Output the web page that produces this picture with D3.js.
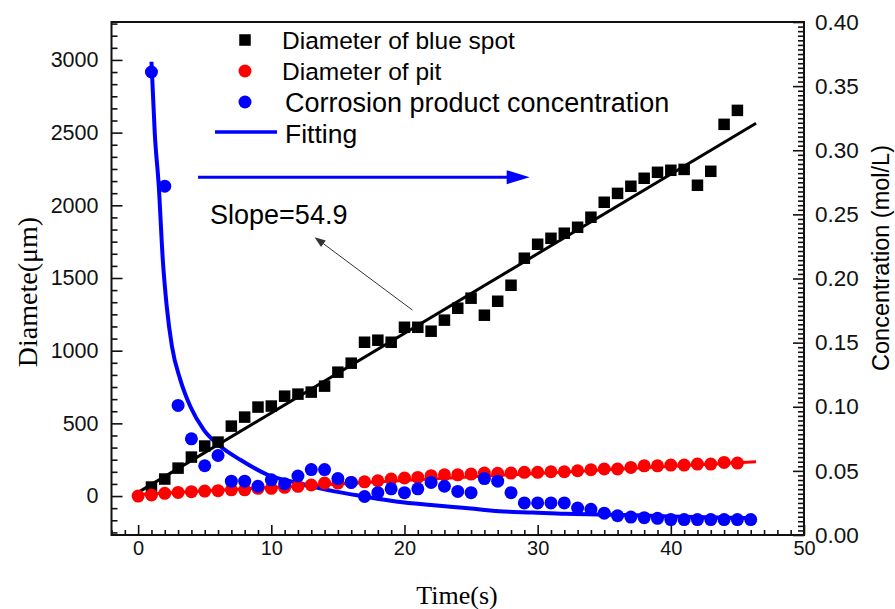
<!DOCTYPE html>
<html>
<head>
<meta charset="utf-8">
<script src="https://cdn.jsdelivr.net/npm/d3@7"></script>
<style>
  body { margin: 0; background: #fff; }
  svg { display: block; }
  .tick text { font-family: "Liberation Sans", Arial, sans-serif; fill: #111; }
</style>
</head>
<body>
<svg id="chart"></svg>
<script>
// black squares: diameter of blue spot (um), t = 1..45 s
const spotTime = d3.range(1, 46)
const spotDiam = [62, 117, 192, 268, 344, 371, 481, 543, 612, 619,
  687, 701, 715, 756, 852, 914, 1058, 1072, 1058, 1161,
  1161, 1134, 1210, 1292, 1361, 1244, 1340, 1450, 1636, 1732,
  1773, 1808, 1849, 1918, 2021, 2082, 2131, 2186, 2227, 2241,
  2247, 2138, 2234, 2557, 2653]

// red circles: diameter of pit (um), t = 0..45 s
const pitTime = d3.range(0, 46)
const pitDiam = [0, 7, 19, 25, 30, 34, 37, 43, 43, 53,
  53, 60, 67, 76, 89, 89, 94, 98, 105, 117,
  124, 128, 140, 146, 146, 151, 158, 156, 158, 163,
  163, 167, 167, 174, 181, 186, 186, 197, 208, 208,
  213, 213, 220, 220, 231, 227]

// blue circles: corrosion product concentration (mol/L), t = 1..46 s
const concTime = d3.range(1, 47)
const conc = [0.361, 0.272, 0.101, 0.075, 0.054, 0.062, 0.042, 0.042, 0.038, 0.043,
  0.040, 0.046, 0.051, 0.051, 0.044, 0.041, 0.030, 0.033, 0.036, 0.033,
  0.036, 0.041, 0.038, 0.034, 0.033, 0.044, 0.042, 0.033, 0.025, 0.025,
  0.025, 0.025, 0.021, 0.020, 0.017, 0.015, 0.014, 0.0135, 0.013, 0.012,
  0.012, 0.012, 0.012, 0.012, 0.012, 0.012]

// fitted curves
const spotFitTime = [0, 46.4]
const spotFitDiam = [25, 2565]
const pitFitTime = [0, 46.4]
const pitFitDiam = [10, 236]
const concFitTime = [1.0, 1.25, 1.55, 1.85, 2.15, 2.54, 3.17, 3.93, 4.93, 6.19, 7.7, 9.72,
  12.24, 14.75, 17, 19.5, 22, 24.6, 27.1, 29.6, 32.1, 35, 40, 46.3]
const concFitVal = [0.369, 0.313, 0.272, 0.215, 0.178, 0.147, 0.121, 0.100, 0.082, 0.069, 0.0585, 0.047,
  0.040, 0.034, 0.030, 0.026, 0.0234, 0.021, 0.0185, 0.0175, 0.0165, 0.016, 0.0145, 0.013]

const xTicks = [0, 10, 20, 30, 40, 50]
const yLeftTicks = [0, 500, 1000, 1500, 2000, 2500, 3000]
const yRightTicks = [0, 0.05, 0.10, 0.15, 0.20, 0.25, 0.30, 0.35, 0.40]

const legendLabels = ['Diameter of blue spot', 'Diameter of pit', 'Corrosion product concentration', 'Fitting']

const drawChart = () => {

    const width = 895
    const height = 609

    const plot = { left: 111.5, right: 804, top: 22, bottom: 535 }

    const svg = d3.select('#chart')
        .attr('width', width)
        .attr('height', height)

    const xScale = d3.scaleLinear()
        .domain([-2, 50])
        .range([plot.left, plot.right])

    const yLeft = d3.scaleLinear()
        .domain([-268, 3261])
        .range([plot.bottom, plot.top])

    const yRight = d3.scaleLinear()
        .domain([0, 0.4])
        .range([plot.bottom, plot.top])

    // minor ticks
    const xMinor = d3.range(-2, 51).filter(v => v % 10 !== 0)
    const yLeftMinor = d3.range(-3, 40).map(i => i * 500 / 6).filter(v => v > -268 && v < 3261 && Math.abs(v % 500) > 1)
    const yRightMinor = d3.range(1, 112).map(i => i * 0.05 / 14).filter(v => v < 0.4 && Math.abs(v / 0.05 - Math.round(v / 0.05)) > 0.01)

    const minorAxis = (gen, vals) => gen.tickValues(vals).tickFormat('').tickSizeOuter(0)

    svg.append('g')
        .attr('transform', `translate(0, ${plot.bottom})`)
        .call(minorAxis(d3.axisBottom(xScale), xMinor).tickSizeInner(-5))
    svg.append('g')
        .attr('transform', `translate(${plot.left}, 0)`)
        .call(minorAxis(d3.axisLeft(yLeft), yLeftMinor).tickSizeInner(-6))
    svg.append('g')
        .attr('transform', `translate(${plot.right}, 0)`)
        .call(minorAxis(d3.axisRight(yRight), yRightMinor).tickSizeInner(-6))

    const xAxis = svg.append('g')
        .attr('transform', `translate(0, ${plot.bottom})`)
        .call(d3.axisBottom(xScale).tickValues(xTicks).tickSizeInner(-10).tickSizeOuter(0).tickPadding(6))
    xAxis.selectAll('text').style('font-size', '20px')

    const yAxisL = svg.append('g')
        .attr('transform', `translate(${plot.left}, 0)`)
        .call(d3.axisLeft(yLeft).tickValues(yLeftTicks).tickFormat(d3.format('d')).tickSizeInner(-11).tickSizeOuter(0).tickPadding(13))
    yAxisL.selectAll('text').style('font-size', '21.5px')

    const yAxisR = svg.append('g')
        .attr('transform', `translate(${plot.right}, 0)`)
        .call(d3.axisRight(yRight).tickValues(yRightTicks).tickFormat(d3.format('.2f')).tickSizeInner(-11).tickSizeOuter(0).tickPadding(11))
    yAxisR.selectAll('text').style('font-size', '22.5px')

    svg.selectAll('.domain').remove()
    svg.selectAll('.tick line').attr('stroke', '#111').attr('stroke-width', 1.6)

    // frame
    svg.append('rect')
        .attr('x', plot.left)
        .attr('y', plot.top)
        .attr('width', plot.right - plot.left)
        .attr('height', plot.bottom - plot.top)
        .attr('fill', 'none')
        .attr('stroke', '#111')
        .attr('stroke-width', 2)

    // axis titles
    svg.append('text')
        .text('Time(s)')
        .attr('x', 457)
        .attr('y', 604)
        .style('text-anchor', 'middle')
        .style('font-family', '"Liberation Serif", "Times New Roman", serif')
        .style('font-size', '26px')

    svg.append('text')
        .text('Diamete(μm)')
        .attr('transform', 'translate(37, 292) rotate(-90)')
        .style('text-anchor', 'middle')
        .style('font-family', '"Liberation Serif", "Times New Roman", serif')
        .style('font-size', '28px')

    svg.append('text')
        .text('Concentration (mol/L)')
        .attr('transform', 'translate(889, 258) rotate(-90)')
        .style('text-anchor', 'middle')
        .style('font-family', '"Liberation Sans", Arial, sans-serif')
        .style('font-size', '23.5px')

    // fits under the markers
    const lineL = d3.line().x(d => xScale(d[0])).y(d => yLeft(d[1]))
    const lineR = d3.line().x(d => xScale(d[0])).y(d => yRight(d[1])).curve(d3.curveMonotoneX)

    svg.append('path')
        .datum(d3.zip(spotFitTime, spotFitDiam))
        .attr('d', lineL)
        .attr('fill', 'none')
        .attr('stroke', '#000')
        .attr('stroke-width', 3)

    svg.append('path')
        .datum(d3.zip(pitFitTime, pitFitDiam))
        .attr('d', lineL)
        .attr('fill', 'none')
        .attr('stroke', '#ff0000')
        .attr('stroke-width', 3)

    svg.append('path')
        .datum(d3.zip(concFitTime, concFitVal))
        .attr('d', lineR)
        .attr('fill', 'none')
        .attr('stroke', '#0000ff')
        .attr('stroke-width', 4)

    // markers
    const sq = 11.5
    svg.append('g')
        .selectAll('rect')
        .data(d3.zip(spotTime, spotDiam))
        .enter()
        .append('rect')
        .attr('x', d => xScale(d[0]) - sq / 2)
        .attr('y', d => yLeft(d[1]) - sq / 2)
        .attr('width', sq)
        .attr('height', sq)
        .attr('fill', '#000')

    svg.append('g')
        .selectAll('circle')
        .data(d3.zip(pitTime, pitDiam))
        .enter()
        .append('circle')
        .attr('cx', d => xScale(d[0]))
        .attr('cy', d => yLeft(d[1]))
        .attr('r', 6.5)
        .attr('fill', '#ff0000')

    svg.append('g')
        .selectAll('circle')
        .data(d3.zip(concTime, conc))
        .enter()
        .append('circle')
        .attr('cx', d => xScale(d[0]))
        .attr('cy', d => yRight(d[1]))
        .attr('r', 6.5)
        .attr('fill', '#0000ff')

    // legend
    const legend = svg.append('g').style('font-family', '"Liberation Sans", Arial, sans-serif')
    const rowY = [40, 71, 102, 133]
    const rowSize = ['24.5px', '24.5px', '27px', '26.5px']
    legend.append('rect').attr('x', 245 - sq / 2).attr('y', rowY[0] - sq / 2).attr('width', sq).attr('height', sq).attr('fill', '#000')
    legend.append('circle').attr('cx', 245).attr('cy', rowY[1]).attr('r', 6.5).attr('fill', '#ff0000')
    legend.append('circle').attr('cx', 245).attr('cy', rowY[2]).attr('r', 6.5).attr('fill', '#0000ff')
    legend.append('line').attr('x1', 215).attr('x2', 277).attr('y1', rowY[3] - 1).attr('y2', rowY[3] - 1)
        .attr('stroke', '#0000ff').attr('stroke-width', 3.5)
    legend.selectAll('text')
        .data(legendLabels)
        .enter()
        .append('text')
        .text(d => d)
        .attr('x', (d, i) => i < 2 ? 282 : 285)
        .attr('y', (d, i) => rowY[i])
        .attr('dy', '0.36em')
        .style('font-size', (d, i) => rowSize[i])

    // blue arrow pointing to the right axis
    const arrowY = yRight(0.279)
    svg.append('line')
        .attr('x1', xScale(4.5)).attr('x2', xScale(27.8))
        .attr('y1', arrowY).attr('y2', arrowY)
        .attr('stroke', '#0000ff').attr('stroke-width', 3)
    const tip = xScale(29.4)
    svg.append('path')
        .attr('d', `M${tip},${arrowY} L${tip - 23},${arrowY - 7} L${tip - 23},${arrowY + 7} Z`)
        .attr('fill', '#0000ff')

    // slope annotation
    svg.append('text')
        .text('Slope=54.9')
        .attr('x', xScale(5.4))
        .attr('y', yLeft(1870))
        .style('font-family', '"Liberation Sans", Arial, sans-serif')
        .style('font-size', '27px')

    const a0 = [xScale(20.6), yLeft(1279)]
    const a1 = [xScale(13.25), yLeft(1781)]
    const ang = Math.atan2(a1[1] - a0[1], a1[0] - a0[0])
    const hl = 11, hw = 4
    const bx = a1[0] - hl * Math.cos(ang), by = a1[1] - hl * Math.sin(ang)
    svg.append('line')
        .attr('x1', a0[0]).attr('y1', a0[1]).attr('x2', bx).attr('y2', by)
        .attr('stroke', '#333').attr('stroke-width', 1)
    svg.append('path')
        .attr('d', `M${a1[0]},${a1[1]} L${bx + hw * Math.sin(ang)},${by - hw * Math.cos(ang)} L${bx - hw * Math.sin(ang)},${by + hw * Math.cos(ang)} Z`)
        .attr('fill', '#333')
}

drawChart()
</script>
</body>
</html>
